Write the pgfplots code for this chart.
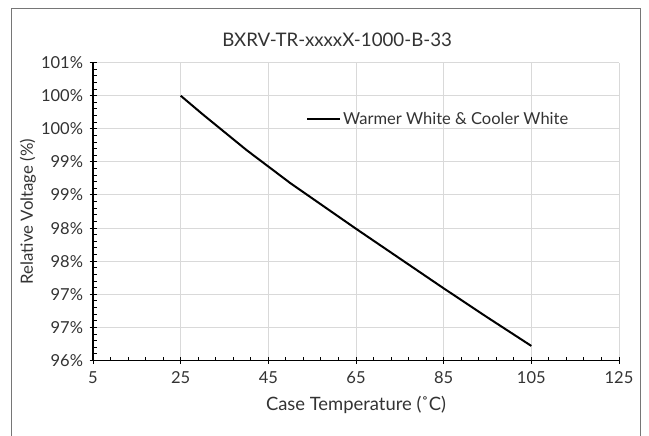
\documentclass[border=0pt]{standalone}
\usepackage{fontspec}
\setmainfont{Lato}
\usepackage{pgfplots}
\pgfplotsset{compat=1.18}
\definecolor{txt}{HTML}{333333}
\definecolor{gridc}{HTML}{D9D9D9}
\definecolor{framec}{HTML}{767676}
\begin{document}
\begin{tikzpicture}[x=1bp,y=1bp]
\useasboundingbox[fill=white] (0,0) rectangle (649,436);
\draw[color=framec, line width=1bp] (11,-3) -- (11,427) -- (640,427) -- (640,-3);
\begin{axis}[
  at={(93bp,75.5bp)}, anchor=south west,
  scale only axis, width=526bp, height=297.9bp,
  xmin=5, xmax=125, ymin=96, ymax=100.5,
  xtick={5,25,...,125},
  ytick={96,96.5,97,97.5,98,98.5,99,99.5,100,100.5},
  yticklabels={96\%,97\%,97\%,98\%,98\%,99\%,99\%,100\%,100\%,101\%},
  minor x tick num=4, minor y tick num=4,
  axis x line=bottom, axis y line=left,
  axis line style={-, line width=1.2bp, black},
  tick align=center,
  major tick length=7bp, minor tick length=3.5bp,
  every tick/.style={black, line width=1bp},
  minor x tick style={yshift=1.75bp},
  minor y tick style={xshift=1.75bp},
  grid=major,
  major grid style={gridc, line width=1bp},
  /pgf/number format/assume math mode=true,
  tick label style={font=\fontsize{16.5bp}{18bp}\selectfont, text=txt},
  xticklabel style={yshift=-4bp},
  yticklabel style={xshift=-3bp},
  title={BXRV-TR-xxxxX-1000-B-33},
  title style={at={(axis description cs:0.464,1.0557)}, anchor=center, font=\fontsize{18.7bp}{22bp}\selectfont, text=txt},
  xlabel={Case Temperature (˚C)},
  xlabel style={at={(axis description cs:0.5,-0.1494)}, anchor=center, font=\fontsize{18.4bp}{22bp}\selectfont, text=txt},
  ylabel={Relative Voltage (\%)},
  ylabel style={at={(axis description cs:-0.1236,0.5)}, anchor=center, font=\fontsize{16.8bp}{19bp}\selectfont, text=txt},
  legend style={at={(0.405,0.81)}, anchor=west, draw=none, fill=none,
    font=\fontsize{16.5bp}{19bp}\selectfont, text=txt, inner sep=0pt},
  legend image code/.code={\draw[#1] (0bp,0bp) -- (33bp,0bp);},
  legend cell align=left,
]
\addplot[black, line width=2bp] coordinates {
(25,100.0) (30,99.72) (35,99.45) (40,99.18) (45,98.93) (50,98.68) (55,98.45) (65,97.99) (75,97.54) (85,97.09) (95,96.65) (105,96.22)
};
\addlegendentry{Warmer White \& Cooler White}
\end{axis}
\end{tikzpicture}
\end{document}
